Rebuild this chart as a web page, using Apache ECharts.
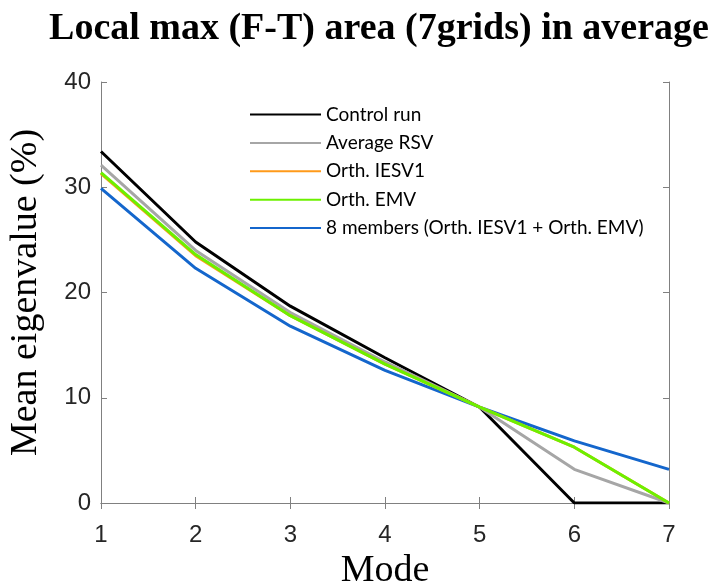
<!DOCTYPE html>
<html>
<head>
<meta charset="utf-8">
<script src="https://cdn.jsdelivr.net/npm/echarts@6/dist/echarts.min.js"></script>
<style>html,body{margin:0;padding:0;background:#fff}#c{width:710px;height:584px}</style>
</head>
<body>
<div id="c"></div>
<script>
var modes = [1, 2, 3, 4, 5, 6, 7];
var controlRun = [33.4, 24.8, 18.7, 13.8, 9.1, 0, 0];
var averageRSV = [32.1, 24.0, 18.1, 13.4, 9.1, 3.2, 0];
var orthIESV1 = [31.3, 23.5, 17.8, 13.2, 9.1, 5.3, 0];
var orthEMV = [31.4, 23.6, 17.8, 13.2, 9.1, 5.3, 0];
var eightMembers = [29.9, 22.3, 16.8, 12.6, 9.1, 5.9, 3.2];
var yTicks = [0, 10, 20, 30, 40];

var names = ['Control run', 'Average RSV', 'Orth. IESV1', 'Orth. EMV', '8 members (Orth. IESV1 + Orth. EMV)'];
var colors = ['#000000', '#a6a6a6', '#ff9a1a', '#6cf000', '#1466cc'];
var datas = [controlRun, averageRSV, orthIESV1, orthEMV, eightMembers];

var chart = echarts.init(document.getElementById('c'));
var axisLine = {show: true, lineStyle: {color: '#808080', width: 1}};
var tick = {show: true, inside: true, length: 6, lineStyle: {color: '#808080'}};
var series = datas.map(function (d, i) {
  return {
    name: names[i], type: 'line', data: d.map(function (v, j) { return [modes[j], v]; }),
    symbol: 'none', lineStyle: {color: colors[i], width: 3}, itemStyle: {color: colors[i]},
    z: i === 3 ? 6 : (i === 2 ? 5 : 4), animation: false
  };
});
chart.setOption({
  animation: false,
  title: {
    text: 'Local max (F-T) area (7grids) in average', left: 374, top: 5, textAlign: 'center',
    textStyle: {fontFamily: 'Liberation Serif', fontWeight: 'bold', fontSize: 38, color: '#000'}
  },
  legend: {
    orient: 'vertical', left: 245, top: 100, itemWidth: 71, itemHeight: 2, itemGap: 9.4,
    icon: 'rect',
    textStyle: {fontFamily: 'Lato', fontSize: 19, color: '#000'},
    data: names
  },
  grid: {left: 101, right: 41, top: 82, bottom: 81, containLabel: false, outerBoundsMode: 'none'},
  xAxis: [{
    type: 'value', min: 1, max: 7, interval: 1, position: 'bottom',
    name: 'Mode', nameLocation: 'middle', nameGap: 48,
    nameTextStyle: {fontFamily: 'Liberation Serif', fontSize: 38, color: '#000'},
    axisLine: axisLine, axisTick: tick,
    axisLabel: {fontFamily: 'Liberation Sans', fontSize: 24, color: '#262626', margin: 20},
    splitLine: {show: false}
  }, {
    type: 'value', min: 1, max: 7, interval: 1, position: 'top',
    axisLine: axisLine, axisTick: tick, axisLabel: {show: false}, splitLine: {show: false}
  }],
  yAxis: [{
    type: 'value', min: 0, max: 40, interval: 10, position: 'left',
    name: 'Mean eigenvalue (%)', nameLocation: 'middle', nameGap: 56,
    nameTextStyle: {fontFamily: 'Liberation Serif', fontSize: 38, color: '#000'},
    axisLine: axisLine, axisTick: tick,
    axisLabel: {fontFamily: 'Liberation Sans', fontSize: 24, color: '#262626', margin: 10,
      formatter: function (v) { return yTicks.indexOf(v) >= 0 ? String(v) : ''; }},
    splitLine: {show: false}
  }, {
    type: 'value', min: 0, max: 40, interval: 10, position: 'right',
    axisLine: axisLine, axisTick: tick, axisLabel: {show: false}, splitLine: {show: false}
  }],
  series: series
});
</script>
</body>
</html>
